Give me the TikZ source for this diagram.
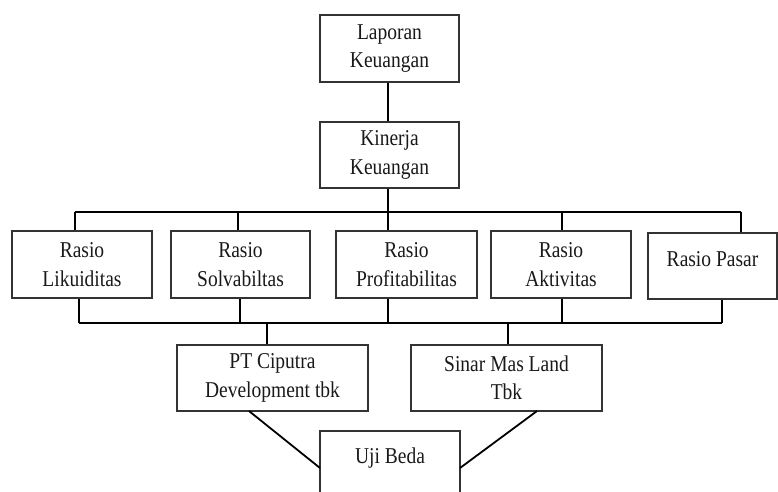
\documentclass[tikz,border=0pt]{standalone}
\usepackage{graphicx}
\usepackage{fontspec}
\setmainfont{Liberation Serif}
\newcommand{\tx}[1]{\scalebox{1}[1.16]{#1}}
\begin{document}
\begin{tikzpicture}[x=1pt,y=-1pt,
  box/.style={draw=black!80,line width=1.1pt,inner sep=0pt,align=center,
    font=\fontsize{19.5}{28.5}\selectfont,text=black!90},
  lbl/.style={font=\fontsize{19.5}{28.5}\selectfont,text=black!90,inner sep=0pt},
  conn/.style={line width=1.8pt,black}]
\useasboundingbox (0,0) rectangle (778,491);
\begin{scope}
\clip (0,0) rectangle (778,491);
% boxes
\node[box,minimum width=139pt,minimum height=67pt] (lap) at (389.5,48.5) {\tx{Laporan}\\\tx{Keuangan}};
\node[box,minimum width=139pt,minimum height=66pt] (kin) at (389.5,155) {\tx{Kinerja}\\\tx{Keuangan}};
\node[box,minimum width=140pt,minimum height=67pt] (r1) at (82,264.5) {\tx{Rasio}\\\tx{Likuiditas}};
\node[box,minimum width=139pt,minimum height=67pt] (r2) at (240.5,264.5) {\tx{Rasio}\\\tx{Solvabiltas}};
\node[box,minimum width=141pt,minimum height=67pt] (r3) at (406.5,264.5) {\tx{Rasio}\\\tx{Profitabilitas}};
\node[box,minimum width=140pt,minimum height=67pt] (r4) at (561,264.5) {\tx{Rasio}\\\tx{Aktivitas}};
\node[box,minimum width=129pt,minimum height=66pt] (r5) at (712.5,266) {};
\node[lbl] (r5t) at (712.5,259) {\tx{Rasio Pasar}};
\node[box,minimum width=191pt,minimum height=66pt] (pt) at (272.5,378) {\tx{PT Ciputra}\\\tx{Development tbk}};
\node[box,minimum width=191pt,minimum height=66pt] (sm) at (506.5,378) {\tx{Sinar Mas Land}\\\tx{Tbk}};
\node[box,minimum width=140pt,minimum height=70pt] (uji) at (390,466) {};
\node[lbl] (ujit) at (390,458) {\tx{Uji Beda}};
% coordinates
\coordinate (k) at (388,155);
\coordinate (tl) at (75,212);
\coordinate (tr) at (741,212);
\coordinate (t2) at (238,212);
\coordinate (t3) at (388,212);
\coordinate (t4) at (562,212);
\coordinate (bl) at (79,323);
\coordinate (br) at (722,323);
\coordinate (b2) at (240,323);
\coordinate (b3) at (388,323);
\coordinate (b4) at (562,323);
\coordinate (bp) at (267,323);
\coordinate (bs) at (508,323);
\coordinate (pd) at (249,411);
\coordinate (sd) at (537,411);
\coordinate (ul) at (320,468);
\coordinate (ur) at (460,468);
% connectors
\draw[conn] (k |- lap.south) -- (k |- kin.north);
\draw[conn] (k |- kin.south) -- (t3);
\draw[conn] (tl) -- (tr);
\draw[conn] (tl) -- (tl |- r1.north);
\draw[conn] (t2) -- (t2 |- r2.north);
\draw[conn] (t3) -- (t3 |- r3.north);
\draw[conn] (t4) -- (t4 |- r4.north);
\draw[conn] (tr) -- (tr |- r5.north);
\draw[conn] (bl |- r1.south) -- (bl);
\draw[conn] (b2 |- r2.south) -- (b2);
\draw[conn] (b3 |- r3.south) -- (b3);
\draw[conn] (b4 |- r4.south) -- (b4);
\draw[conn] (br |- r5.south) -- (br);
\draw[conn] (bl) -- (br);
\draw[conn] (bp) -- (bp |- pt.north);
\draw[conn] (bs) -- (bs |- sm.north);
\draw[conn] (pd) -- (ul);
\draw[conn] (sd) -- (ur);
\end{scope}
\end{tikzpicture}
\end{document}
